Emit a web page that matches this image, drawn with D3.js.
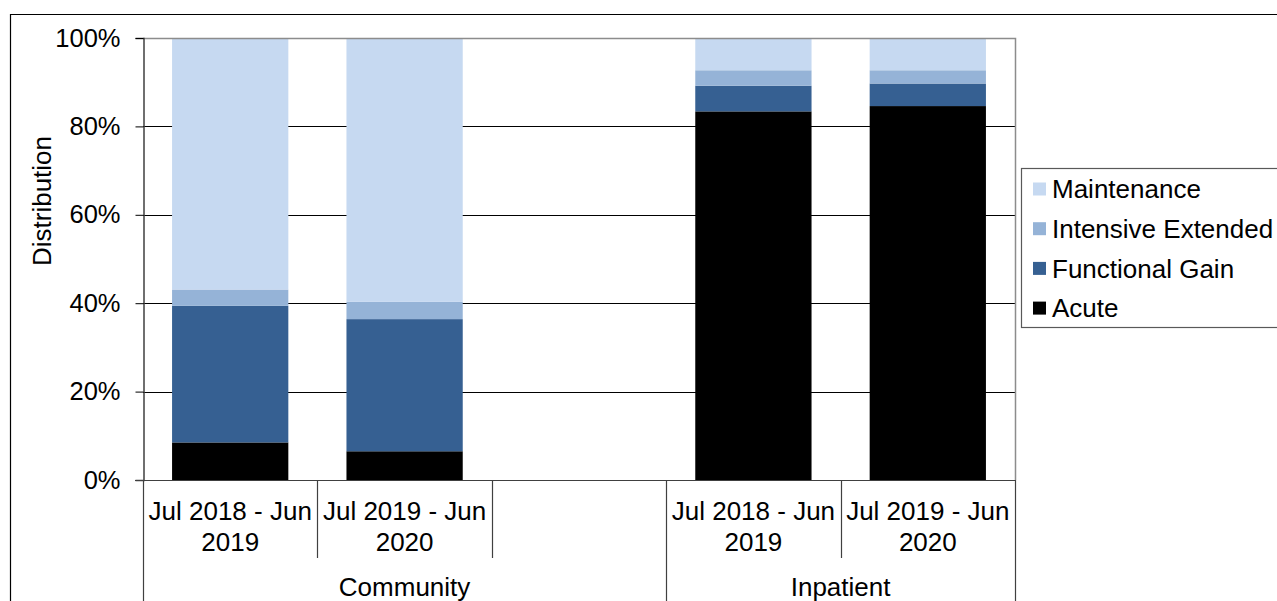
<!DOCTYPE html>
<html>
<head>
<meta charset="utf-8">
<script src="https://cdn.jsdelivr.net/npm/d3@7/dist/d3.min.js"></script>
<style>
  html, body { margin: 0; padding: 0; background: #fff; }
  svg { display: block; }
  text { font-family: "Liberation Sans", Arial, sans-serif; fill: #000; }
</style>
</head>
<body>
<svg id="chart" width="1277" height="601"></svg>
<script>
// ---- data ----
const categories = ["Jul 2018 - Jun 2019", "Jul 2019 - Jun 2020", "", "Jul 2018 - Jun 2019", "Jul 2019 - Jun 2020"];
const groups = ["Community", "Community", "Community", "Inpatient", "Inpatient"];
const seriesNames = ["Acute", "Functional Gain", "Intensive Extended", "Maintenance"];
const acute = [8.5, 6.5, null, 83.4, 84.6];
const functionalGain = [30.9, 29.9, null, 5.8, 5.1];
const intensiveExtended = [3.7, 3.9, null, 3.5, 3.0];
const maintenance = [56.9, 59.7, null, 7.3, 7.3];
const yTicks = [0, 20, 40, 60, 80, 100];
const yTickLabels = ["0%", "20%", "40%", "60%", "80%", "100%"];
const yTitle = "Distribution";

// ---- styles ----
const colors = {
  "Acute": "#000000",
  "Functional Gain": "#366092",
  "Intensive Extended": "#95B3D7",
  "Maintenance": "#C6D9F1"
};
const plot = { left: 143, right: 1015, top: 38, bottom: 480 };
const fontSize = 26;

const svg = d3.select("#chart");

// outer chart border
svg.append("path")
  .attr("d", "M10.5,601 L10.5,14.5 L1277,14.5")
  .attr("fill", "none").attr("stroke", "#000").attr("stroke-width", 1.2);

const ids = categories.map((c, i) => i);
const x = d3.scaleBand().domain(ids).range([plot.left, plot.right])
  .paddingInner(1 / 3).paddingOuter(1 / 6);
const y = d3.scaleLinear().domain([0, 100]).range([plot.bottom, plot.top]);

// table for stacking
const table = ids.map(i => ({
  id: i,
  "Acute": acute[i] || 0,
  "Functional Gain": functionalGain[i] || 0,
  "Intensive Extended": intensiveExtended[i] || 0,
  "Maintenance": maintenance[i] || 0,
  empty: acute[i] == null
}));
const stacked = d3.stack().keys(seriesNames)(table);

// gridlines
svg.append("g").selectAll("line")
  .data(yTicks.filter(t => t > 0 && t < 100))
  .join("line")
  .attr("x1", plot.left).attr("x2", plot.right)
  .attr("y1", d => Math.round(y(d)) + 0.5).attr("y2", d => Math.round(y(d)) + 0.5)
  .attr("stroke", "#000").attr("stroke-width", 1);

// bars
svg.append("g").selectAll("g")
  .data(stacked)
  .join("g")
  .attr("fill", d => colors[d.key])
  .selectAll("rect")
  .data(d => d.filter(s => !s.data.empty))
  .join("rect")
  .attr("x", d => x(d.data.id))
  .attr("width", x.bandwidth())
  .attr("y", d => y(d[1]))
  .attr("height", d => y(d[0]) - y(d[1]));

// plot border top & right (gray)
svg.append("path")
  .attr("d", `M${plot.left},${plot.top + 0.5} L${plot.right + 0.5},${plot.top + 0.5} L${plot.right + 0.5},${plot.bottom}`)
  .attr("fill", "none").attr("stroke", "#8c8c8c").attr("stroke-width", 1.5);

// y axis
const yAxis = d3.axisLeft(y).tickValues(yTicks)
  .tickFormat((d, i) => yTickLabels[i]).tickSize(8).tickPadding(15);
const gy = svg.append("g").attr("transform", `translate(${plot.left + 0.5},0)`).call(yAxis);
gy.select(".domain").attr("stroke", "#404040").attr("stroke-width", 1.5);
gy.selectAll(".tick line").attr("stroke", "#000").attr("stroke-width", 1);
gy.selectAll(".tick text")
  .style("font-family", '"Liberation Sans", Arial, sans-serif')
  .style("font-size", "25.5px").attr("fill", "#000");

// x axis baseline
svg.append("line")
  .attr("x1", plot.left - 8).attr("x2", plot.right + 0.5)
  .attr("y1", plot.bottom + 0.5).attr("y2", plot.bottom + 0.5)
  .attr("stroke", "#404040").attr("stroke-width", 1.2);

// category separators
const step = x.step();
const edges = d3.range(ids.length + 1).map(i => plot.left + i * step);
const groupStarts = new Set([0, ids.length]);
groups.forEach((g, i) => { if (i > 0 && g !== groups[i - 1]) groupStarts.add(i); });
svg.append("g").selectAll("line")
  .data(edges.map((e, i) => ({ x: e, long: groupStarts.has(i) })))
  .join("line")
  .attr("x1", d => Math.round(d.x) + 0.5).attr("x2", d => Math.round(d.x) + 0.5)
  .attr("y1", plot.bottom).attr("y2", d => d.long ? 601 : 558)
  .attr("stroke", "#404040").attr("stroke-width", 1.2);

// category labels (two lines)
const catG = svg.append("g").attr("font-size", fontSize);
categories.forEach((c, i) => {
  if (!c) return;
  const k = c.lastIndexOf(" ");
  const lines = [c.slice(0, k), c.slice(k + 1)];
  const cx = x(i) + x.bandwidth() / 2;
  lines.forEach((ln, j) => {
    catG.append("text").attr("x", cx).attr("y", 520 + j * 31)
      .attr("text-anchor", "middle").text(ln);
  });
});

// group labels
const groupNames = Array.from(new Set(groups));
groupNames.forEach(g => {
  const idx = groups.map((v, i) => v === g ? i : -1).filter(i => i >= 0);
  const x0 = plot.left + d3.min(idx) * step;
  const x1 = plot.left + (d3.max(idx) + 1) * step;
  svg.append("text").attr("x", (x0 + x1) / 2).attr("y", 596)
    .attr("text-anchor", "middle").attr("font-size", fontSize).text(g);
});

// y title
svg.append("text")
  .attr("transform", "translate(51,201) rotate(-90)")
  .attr("text-anchor", "middle").attr("font-size", fontSize).text(yTitle);

// legend
const legend = svg.append("g");
legend.append("rect").attr("x", 1021.5).attr("y", 168.5).attr("width", 300).attr("height", 159)
  .attr("fill", "#fff").attr("stroke", "#595959").attr("stroke-width", 1.2);
const legendOrder = seriesNames.slice().reverse();
legendOrder.forEach((s, i) => {
  const cy = 189 + i * 39.7;
  legend.append("rect").attr("x", 1033).attr("y", cy - 6.5).attr("width", 13).attr("height", 13)
    .attr("fill", colors[s]);
  legend.append("text").attr("x", 1052).attr("y", cy).attr("dy", "0.35em")
    .attr("font-size", fontSize).text(s);
});
</script>
</body>
</html>
